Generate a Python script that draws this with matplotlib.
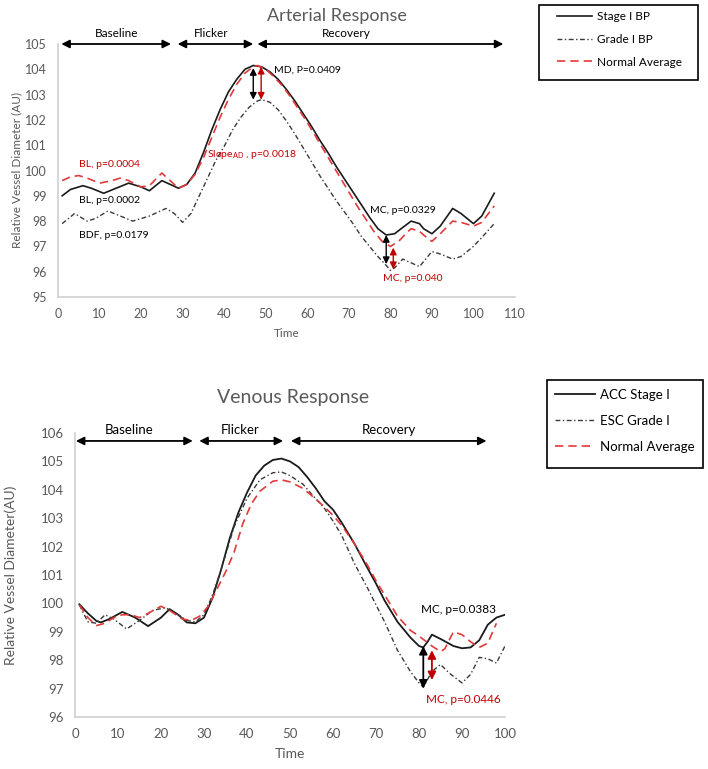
import matplotlib
matplotlib.use("Agg")
import matplotlib.pyplot as plt
from matplotlib.patches import Rectangle

plt.rcParams['font.family'] = ['Lato', 'DejaVu Sans']

# ---------------- Arterial data ----------------
art_stage_x = [1, 3, 6, 8, 11, 14, 17, 20, 22, 25, 27, 29, 31, 33, 35, 37, 39, 41, 43, 45, 47, 49, 51, 53, 55,
               57, 59, 61, 63, 65, 67, 69, 71, 73, 75, 77, 79, 81, 83, 85, 87, 88, 90, 92, 95, 97, 100, 102, 105]
art_stage_y = [99.0, 99.25, 99.4, 99.3, 99.1, 99.3, 99.5, 99.35, 99.2, 99.6, 99.45, 99.3, 99.45, 99.9, 100.7,
               101.6, 102.4, 103.1, 103.6, 104.0, 104.15, 104.1, 103.9, 103.6, 103.2, 102.75, 102.25, 101.75,
               101.2, 100.7, 100.15, 99.65, 99.15, 98.65, 98.15, 97.7, 97.45, 97.5, 97.75, 98.0, 97.9, 97.7,
               97.5, 97.8, 98.5, 98.3, 97.9, 98.2, 99.1]

art_grade_x = [1, 4, 7, 9, 12, 15, 18, 22, 26, 28, 30, 32, 34, 36, 38, 40, 42, 44, 46, 48, 49, 51, 53, 55, 57,
               59, 61, 63, 65, 67, 69, 71, 73, 75, 77, 79, 80, 81, 83, 85, 87, 88, 90, 92, 95, 97, 100, 102, 105]
art_grade_y = [97.9, 98.3, 98.0, 98.1, 98.4, 98.2, 98.0, 98.2, 98.5, 98.3, 97.95, 98.3, 99.0, 99.7, 100.4,
               100.95, 101.6, 102.1, 102.5, 102.75, 102.8, 102.7, 102.4, 101.95, 101.45, 100.9, 100.35, 99.8,
               99.3, 98.8, 98.35, 97.9, 97.4, 97.0, 96.6, 96.25, 96.05, 96.15, 96.5, 96.35, 96.2, 96.4, 96.8,
               96.7, 96.5, 96.6, 97.0, 97.35, 97.9]

art_norm_x = [1, 3, 5, 7, 10, 13, 15, 17, 20, 22, 25, 27, 29, 31, 33, 35, 37, 39, 41, 43, 45, 47, 48, 50, 52,
              54, 56, 58, 60, 62, 64, 66, 68, 70, 72, 74, 76, 78, 80, 82, 84, 85, 87, 88, 90, 92, 95, 97, 100,
              102, 105]
art_norm_y = [99.6, 99.75, 99.8, 99.7, 99.5, 99.6, 99.7, 99.6, 99.35, 99.4, 99.9, 99.6, 99.3, 99.45, 99.85,
              100.5, 101.3, 102.1, 102.8, 103.4, 103.85, 104.1, 104.15, 104.0, 103.7, 103.35, 102.9, 102.4,
              101.9, 101.35, 100.8, 100.25, 99.7, 99.15, 98.6, 98.1, 97.6, 97.2, 97.0, 97.2, 97.55, 97.7, 97.6,
              97.45, 97.2, 97.5, 98.0, 97.95, 97.8, 97.95, 98.6]

# ---------------- Venous data ----------------
ven_stage_x = [1, 3, 5, 6, 8, 11, 14, 17, 20, 22, 24, 26, 28, 30, 32, 34, 36, 38, 40, 42, 44, 46, 48, 50, 52,
               54, 56, 58, 60, 62, 65, 68, 70, 72, 75, 78, 80, 81, 82, 83, 85, 88, 90, 92, 94, 96, 98, 100]
ven_stage_y = [99.97, 99.65, 99.38, 99.33, 99.45, 99.7, 99.5, 99.2, 99.5, 99.8, 99.6, 99.33, 99.3, 99.5,
               100.2, 101.2, 102.3, 103.2, 103.9, 104.5, 104.85, 105.05, 105.1, 105.0, 104.8, 104.45, 104.05,
               103.6, 103.3, 102.85, 102.1, 101.25, 100.7, 100.1, 99.35, 98.8, 98.5, 98.45, 98.65, 98.9,
               98.75, 98.5, 98.42, 98.45, 98.7, 99.25, 99.5, 99.6]

ven_grade_x = [1, 3, 5, 7, 9, 12, 15, 18, 21, 24, 26, 28, 30, 32, 34, 37, 40, 43, 46, 48, 50, 53, 55, 58, 60,
               62, 65, 68, 70, 72, 75, 78, 80, 81, 83, 85, 87, 90, 92, 94, 96, 98, 100]
ven_grade_y = [99.95, 99.35, 99.3, 99.6, 99.45, 99.1, 99.4, 99.75, 99.85, 99.6, 99.4, 99.35, 99.6, 100.3,
               101.2, 102.7, 103.7, 104.35, 104.6, 104.63, 104.5, 104.2, 103.85, 103.35, 102.9, 102.4, 101.4,
               100.55, 99.95, 99.35, 98.35, 97.6, 97.2, 97.05, 97.6, 97.85, 97.55, 97.2, 97.5, 98.1, 98.05,
               97.9, 98.5]

ven_norm_x = [1, 3, 5, 7, 9, 11, 13, 15, 17, 20, 22, 25, 27, 29, 31, 33, 35, 37, 39, 41, 43, 46, 48, 50, 53,
              55, 58, 60, 62, 65, 68, 70, 72, 75, 78, 80, 83, 85, 86, 88, 90, 92, 94, 96, 98]
ven_norm_y = [99.95, 99.5, 99.22, 99.3, 99.5, 99.6, 99.6, 99.5, 99.65, 99.9, 99.75, 99.45, 99.4, 99.55, 99.9,
              100.5, 101.1, 101.8, 102.8, 103.5, 103.95, 104.3, 104.35, 104.28, 104.05, 103.8, 103.4, 103.1,
              102.75, 102.1, 101.35, 100.8, 100.3, 99.55, 99.05, 98.85, 98.5, 98.3, 98.4, 99.0, 98.9, 98.65,
              98.45, 98.6, 99.3]

art_labels = ['Stage I BP', 'Grade I BP', 'Normal Average']
ven_labels = ['ACC Stage I', 'ESC Grade I', 'Normal Average']
art_xticks = [0, 10, 20, 30, 40, 50, 60, 70, 80, 90, 100, 110]
art_yticks = [95, 96, 97, 98, 99, 100, 101, 102, 103, 104, 105]
ven_xticks = [0, 10, 20, 30, 40, 50, 60, 70, 80, 90, 100]
ven_yticks = [96, 97, 98, 99, 100, 101, 102, 103, 104, 105, 106]

BLACK = '#1a1a1a'
DD = '#3a3a3a'
RED = '#e23a3a'
TRED = '#c00000'
GRAY = '#595959'
SPINE = '#d0d0d0'
DASHDOT = (0, (3.5, 1.8, 1, 1.8))

fig = plt.figure(figsize=(7.08, 7.69), dpi=100)
W, H = 708, 769


def axes_px(l, t, r, b):
    return fig.add_axes([l / W, 1 - b / H, (r - l) / W, (b - t) / H])


def style(ax, xticks, yticks, ylabel, fs, lfs, ylx):
    for s in ['top', 'right']:
        ax.spines[s].set_visible(False)
    for s in ['left', 'bottom']:
        ax.spines[s].set_color(SPINE)
        ax.spines[s].set_linewidth(1.2)
    ax.set_xticks(xticks)
    ax.set_yticks(yticks)
    ax.tick_params(length=0, labelsize=fs, labelcolor=GRAY, pad=8)
    ax.set_ylabel(ylabel, color=GRAY, fontsize=lfs)
    ax.yaxis.set_label_coords(ylx, 0.5)
    ax.set_xlabel('Time', color=GRAY, fontsize=lfs, labelpad=6)


def darrow(ax, x1, y1, x2, y2, color, lw=1.3, ms=12):
    ax.annotate('', xy=(x2, y2), xytext=(x1, y1),
                arrowprops=dict(arrowstyle='<|-|>', color=color, lw=lw, mutation_scale=ms,
                                shrinkA=0, shrinkB=0), annotation_clip=False)


def legend_box(handles, l, t, r, b, anchor_x, anchor_y, fs, spacing):
    leg = fig.legend(handles=handles, loc='upper left', bbox_to_anchor=(anchor_x / W, 1 - anchor_y / H),
                     fontsize=fs, frameon=False, handlelength=3.0, labelspacing=spacing, borderpad=0,
                     handletextpad=0.4, borderaxespad=0)
    fig.add_artist(Rectangle((l / W, 1 - b / H), (r - l) / W, (b - t) / H, transform=fig.transFigure,
                             fill=False, edgecolor='black', linewidth=1.2))
    return leg


# ================= Arterial =================
ax1 = axes_px(58, 44, 515, 297)
ax1.plot(art_stage_x, art_stage_y, color=BLACK, lw=1.2, label=art_labels[0])
ax1.plot(art_grade_x, art_grade_y, color=DD, lw=1.0, linestyle=DASHDOT, label=art_labels[1])
ax1.plot(art_norm_x, art_norm_y, color=RED, lw=1.2, linestyle=(0, (5, 3)), label=art_labels[2])
ax1.set_xlim(0, 110)
ax1.set_ylim(95, 105)
style(ax1, art_xticks, art_yticks, 'Relative Vessel Diameter (AU)', 9, 8.5, -0.079)
fig.text(337 / W, 1 - 16 / H, 'Arterial Response', ha='center', va='center', fontsize=13, color=GRAY)

darrow(ax1, 0.8, 105.0, 27.2, 105.0, 'black')
darrow(ax1, 28.8, 105.0, 47.0, 105.0, 'black')
darrow(ax1, 48.0, 105.0, 107.2, 105.0, 'black')
for x, t in [(14, 'Baseline'), (36.9, 'Flicker'), (69.5, 'Recovery')]:
    ax1.text(x, 105.4, t, ha='center', va='center', fontsize=8.5, color='black', clip_on=False)

darrow(ax1, 47.0, 104.05, 47.0, 102.8, 'black', lw=1.0, ms=10)
darrow(ax1, 48.9, 104.1, 48.9, 102.8, TRED, lw=1.0, ms=10)
darrow(ax1, 79.0, 97.45, 79.0, 96.3, 'black', lw=1.0, ms=10)
darrow(ax1, 80.7, 96.95, 80.7, 96.1, TRED, lw=1.0, ms=10)

afs = 7.5
ax1.text(52.1, 103.95, 'MD, P=0.0409', fontsize=afs, color='black', va='center')
ax1.text(35.9, 100.65, r'Slope$_{\mathregular{AD}}$ , p=0.0018', fontsize=afs, color=TRED, va='center')
ax1.text(5.0, 100.25, 'BL, p=0.0004', fontsize=afs, color=TRED, va='center')
ax1.text(5.0, 98.8, 'BL, p=0.0002', fontsize=afs, color='black', va='center')
ax1.text(5.0, 97.45, 'BDF, p=0.0179', fontsize=afs, color='black', va='center')
ax1.text(75.2, 98.4, 'MC, p=0.0329', fontsize=afs, color='black', va='center')
ax1.text(78.2, 95.75, 'MC, p=0.040', fontsize=afs, color=TRED, va='center')

legend_box(ax1.get_lines(), 539, 5, 698, 80, 557, 11, 8.5, 1.0)

# ================= Venous =================
ax2 = axes_px(75, 433, 505, 717)
ax2.plot(ven_stage_x, ven_stage_y, color=BLACK, lw=1.3, label=ven_labels[0])
ax2.plot(ven_grade_x, ven_grade_y, color=DD, lw=1.0, linestyle=DASHDOT, label=ven_labels[1])
ax2.plot(ven_norm_x, ven_norm_y, color=RED, lw=1.2, linestyle=(0, (5, 3)), label=ven_labels[2])
ax2.set_xlim(0, 100)
ax2.set_ylim(96, 106)
style(ax2, ven_xticks, ven_yticks, 'Relative Vessel Diameter(AU)', 9.5, 10, -0.135)
fig.text(293 / W, 1 - 398 / H, 'Venous Response', ha='center', va='center', fontsize=14, color=GRAY)

darrow(ax2, 0.2, 105.72, 27.4, 105.72, 'black')
darrow(ax2, 28.9, 105.72, 48.4, 105.72, 'black')
darrow(ax2, 50.2, 105.72, 95.7, 105.72, 'black')
for x, t in [(12.6, 'Baseline'), (38.5, 'Flicker'), (73.1, 'Recovery')]:
    ax2.text(x, 106.1, t, ha='center', va='center', fontsize=9.5, color='black', clip_on=False)

darrow(ax2, 81.0, 98.5, 81.0, 97.0, 'black', lw=1.3, ms=12)
darrow(ax2, 83.0, 98.35, 83.0, 97.3, TRED, lw=1.3, ms=12)
ax2.text(80.4, 99.77, 'MC, p=0.0383', fontsize=8.5, color='black', va='center')
ax2.text(81.6, 96.6, 'MC, p=0.0446', fontsize=8.5, color=TRED, va='center')

legend_box(ax2.get_lines(), 547, 380, 703, 468, 555, 389, 9.5, 1.05)

fig.savefig('out.png', dpi=100)
